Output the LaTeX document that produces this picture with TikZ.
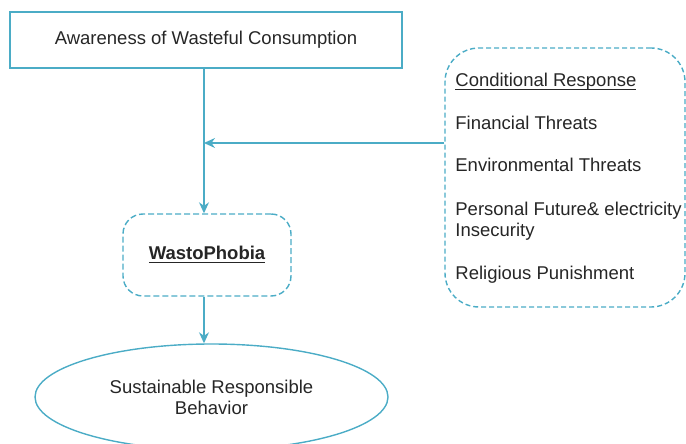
\documentclass[tikz,border=0pt]{standalone}
\usepackage{fontspec}
\setmainfont{Liberation Sans}
\usepackage{xcolor}
\usetikzlibrary{arrows.meta, shapes.geometric, positioning}
\definecolor{lineTeal}{RGB}{75,172,198}
\definecolor{textGray}{RGB}{38,38,38}
% underline close to the baseline
\newcommand{\ulbase}[1]{\underline{\raisebox{0pt}[\height][0pt]{#1}}}

\begin{document}
\begin{tikzpicture}[
    x=0.5pt, y=-0.5pt,
    >=Stealth,
    every node/.style={text=textGray,
        font=\fontsize{9.25}{11}\selectfont},
    % Solid box (top)
    boxS/.style={
        rectangle, draw=lineTeal, line width=0.7pt,
        minimum width=196pt, minimum height=28pt,
        align=center, inner sep=0pt
    },
    % Dashed rounded box
    boxD/.style={
        rectangle, rounded corners=10pt,
        draw=lineTeal, line width=0.7pt,
        dash pattern=on 3pt off 1.5pt,
        align=center, inner sep=0pt
    },
    % Outcome ellipse
    outE/.style={
        ellipse, draw=lineTeal, line width=0.7pt,
        minimum width=176.5pt, minimum height=53pt,
        align=center, inner sep=0pt
    },
    % Left aligned list items (base = last line)
    item/.style={anchor=base west, align=left, inner sep=0pt},
    conn/.style={-{Stealth[length=5.5pt,width=5pt]},
        line width=0.7pt, draw=lineTeal}
]
\useasboundingbox (0,0) rectangle (686,444);
% ── Main column ───────────────────────────────────────
\node[boxS] (aware) at (206,40) {Awareness of Wasteful Consumption};
\node[boxD, minimum width=84pt, minimum height=41pt] (wasto) at (207,255)
    {\textbf{\ulbase{WastoPhobia}}};
\node[outE] (behav) at (211.5,397)
    {Sustainable Responsible\\[-0.5pt]Behavior};
% ── Conditional response (right) ──────────────────────
\node[boxD, rounded corners=17pt, dash pattern=on 2.5pt off 1.5pt,
      minimum width=120pt, minimum height=129.5pt] (cond) at (565,177.5) {};
\node[item] (c0) at (455,87)  {\ulbase{Conditional Response}};
\node[item] (c1) at (455,130) {Financial Threats};
\node[item] (c2) at (455,172) {Environmental Threats};
\node[item] (c3) at (455,236) {Personal Future\& electricity\\[-0.5pt]Insecurity};
\node[item] (c4) at (455,279) {Religious Punishment};
% ── Arrows ───────────────────────────────────────────
\coordinate (join) at (204,143);
\draw[conn] (aware.south -| join) -- (wasto.north -| join);
\draw[conn] (join -| cond.west) -- (join);
\draw[conn] (wasto.south -| join) -- (behav.north -| join);
\end{tikzpicture}
\end{document}
